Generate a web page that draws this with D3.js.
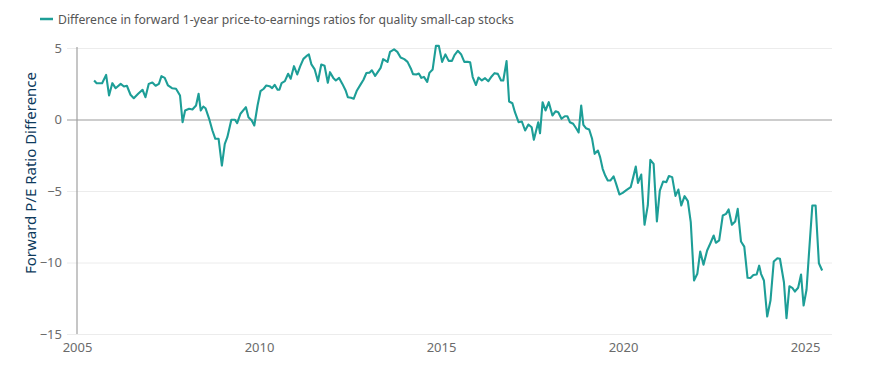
<!DOCTYPE html>
<html>
<head>
<meta charset="utf-8">
<script src="https://cdn.jsdelivr.net/npm/d3@7"></script>
<style>
  body { margin: 0; background: #fff; }
  text { font-family: "Noto Sans", "Open Sans", sans-serif; }
</style>
</head>
<body>
<div id="chart"></div>
<script>
// decimal years and values
var dates = [
  2005.47, 2005.54, 2005.69, 2005.80, 2005.88, 2005.97, 2006.06, 2006.20, 2006.29, 2006.37,
  2006.47, 2006.56, 2006.68, 2006.80, 2006.88, 2006.97, 2007.07, 2007.16, 2007.25, 2007.32,
  2007.41, 2007.50, 2007.61, 2007.72, 2007.83, 2007.90, 2007.97, 2008.08, 2008.17, 2008.27,
  2008.34, 2008.40, 2008.47, 2008.53, 2008.63, 2008.72, 2008.80, 2008.89, 2008.98, 2009.06,
  2009.13, 2009.24, 2009.34, 2009.40, 2009.49, 2009.64, 2009.71, 2009.80, 2009.87, 2009.96,
  2010.04, 2010.13, 2010.20, 2010.29, 2010.36, 2010.43, 2010.51, 2010.56, 2010.62, 2010.71,
  2010.80, 2010.87, 2010.96, 2011.05, 2011.13, 2011.22, 2011.30, 2011.37, 2011.44, 2011.53,
  2011.62, 2011.71, 2011.80, 2011.89, 2011.95, 2012.04, 2012.11, 2012.20, 2012.29, 2012.38,
  2012.44, 2012.53, 2012.60, 2012.69, 2012.80, 2012.87, 2012.95, 2013.04, 2013.10, 2013.19,
  2013.28, 2013.34, 2013.41, 2013.53, 2013.60, 2013.71, 2013.80, 2013.89, 2013.99, 2014.08,
  2014.17, 2014.23, 2014.32, 2014.39, 2014.46, 2014.53, 2014.62, 2014.68, 2014.77, 2014.86,
  2014.94, 2015.03, 2015.12, 2015.21, 2015.30, 2015.37, 2015.46, 2015.55, 2015.64, 2015.73,
  2015.80, 2015.87, 2015.96, 2016.03, 2016.12, 2016.21, 2016.30, 2016.39, 2016.47, 2016.56,
  2016.65, 2016.71, 2016.80, 2016.87, 2016.96, 2017.03, 2017.13, 2017.22, 2017.31, 2017.40,
  2017.49, 2017.55, 2017.67, 2017.72, 2017.79, 2017.87, 2017.96, 2018.06, 2018.15, 2018.22,
  2018.31, 2018.40, 2018.47, 2018.54, 2018.63, 2018.72, 2018.78, 2018.85, 2018.91, 2018.98,
  2019.07, 2019.15, 2019.22, 2019.31, 2019.37, 2019.44, 2019.51, 2019.58, 2019.65, 2019.74,
  2019.81, 2019.90, 2019.99, 2020.09, 2020.21, 2020.28, 2020.35, 2020.41, 2020.50, 2020.59,
  2020.68, 2020.75, 2020.84, 2020.93, 2021.01, 2021.10, 2021.19, 2021.26, 2021.35, 2021.44,
  2021.52, 2021.60, 2021.69, 2021.78, 2021.86, 2021.95, 2022.04, 2022.12, 2022.21, 2022.31,
  2022.40, 2022.49, 2022.55, 2022.64, 2022.74, 2022.83, 2022.90, 2022.99, 2023.08, 2023.15,
  2023.24, 2023.33, 2023.42, 2023.50, 2023.58, 2023.67, 2023.74, 2023.79, 2023.87, 2023.96,
  2024.05, 2024.14, 2024.24, 2024.31, 2024.42, 2024.49, 2024.57, 2024.65, 2024.72, 2024.81,
  2024.89, 2024.96, 2025.04, 2025.11, 2025.20, 2025.29, 2025.38, 2025.47
];
var values = [
  2.73, 2.54, 2.54, 3.12, 1.68, 2.54, 2.19, 2.49, 2.31, 2.36,
  1.73, 1.49, 1.80, 2.08, 1.56, 2.49, 2.59, 2.36, 2.49, 3.03,
  2.91, 2.38, 2.19, 2.15, 1.68, -0.19, 0.63, 0.75, 0.70, 0.98,
  1.80, 0.63, 0.91, 0.79, 0.05, -0.77, -1.35, -1.35, -3.22, -1.70,
  -1.24, -0.02, -0.02, -0.26, 0.40, 0.86, 0.16, -0.07, -0.42, 0.98,
  1.98, 2.15, 2.38, 2.33, 2.19, 2.43, 2.08, 2.08, 2.54, 2.68,
  3.20, 2.85, 3.73, 3.15, 3.71, 4.24, 4.43, 4.55, 3.85, 3.50,
  2.68, 3.85, 3.76, 2.57, 3.31, 2.91, 2.73, 2.91, 2.49, 2.03,
  1.56, 1.52, 1.45, 2.03, 2.49, 2.78, 3.25, 3.28, 3.44, 3.05,
  3.38, 3.61, 4.22, 4.03, 4.73, 4.90, 4.73, 4.34, 4.22, 4.03,
  3.57, 3.17, 3.15, 3.22, 2.91, 2.98, 2.63, 3.26, 3.50, 5.15,
  5.15, 4.03, 4.55, 4.10, 4.10, 4.50, 4.80, 4.57, 4.03, 4.03,
  4.00, 2.97, 2.41, 2.94, 2.73, 2.89, 2.68, 3.01, 3.24, 3.19,
  2.73, 2.73, 4.08, 1.26, 1.14, 0.51, -0.19, -0.14, -0.77, -0.35,
  -0.54, -1.42, -0.19, -0.96, 1.21, 0.63, 1.21, 0.28, 0.58, 0.51,
  0.05, 0.23, 0.23, -0.19, -0.30, -0.65, -0.91, 0.98, -0.37, -0.61,
  -0.70, -1.35, -2.40, -2.17, -2.63, -3.45, -3.92, -4.27, -4.27, -3.97,
  -4.50, -5.24, -5.13, -4.94, -4.73, -4.03, -3.29, -4.43, -3.85, -7.36,
  -6.01, -2.82, -3.10, -7.13, -4.97, -4.34, -4.38, -3.95, -4.03, -5.34,
  -4.90, -6.01, -5.36, -5.71, -7.18, -11.26, -10.79, -9.23, -10.16, -9.16,
  -8.65, -8.11, -8.62, -8.46, -6.71, -6.60, -6.29, -7.36, -7.13, -6.25,
  -8.53, -8.89, -11.07, -11.08, -10.88, -10.84, -10.22, -10.79, -11.26, -13.78,
  -12.66, -9.93, -9.70, -9.74, -11.38, -13.89, -11.66, -11.77, -12.03, -11.77,
  -10.84, -13.01, -11.91, -9.28, -6.01, -6.01, -10.05, -10.56
];
var yTicks = [5, 0, -5, -10, -15];
var xTicks = [2005, 2010, 2015, 2020, 2025];
var seriesName = "Difference in forward 1-year price-to-earnings ratios for quality small-cap stocks";
var yTitle = "Forward P/E Ratio Difference";

var width = 871, height = 372;
var margin = {top: 48, right: 39, bottom: 38, left: 77};
var teal = "#1d9e97";

var data = dates.map(function(d, i){ return {date: d, value: values[i]}; });

var svg = d3.select("#chart").append("svg")
  .attr("width", width)
  .attr("height", height);

var x = d3.scaleLinear()
  .domain([2005, 2025.74])
  .range([margin.left, width - margin.right]);
var y = d3.scaleLinear()
  .domain([-15, 5])
  .range([height - margin.bottom, margin.top]);

// gridlines + y labels
var yAxis = svg.append("g")
  .attr("transform", "translate(" + margin.left + ",0)")
  .call(d3.axisLeft(y)
    .tickValues(yTicks)
    .tickSize(-(width - margin.left - margin.right))
    .tickPadding(15));
yAxis.select(".domain").remove();
yAxis.selectAll(".tick line")
  .attr("x1", -10)
  .attr("stroke", function(d){ return d === 0 ? "#bdbdbd" : "#ececec"; })
  .attr("stroke-width", function(d){ return d === 0 ? 1.5 : 1; });
yAxis.selectAll(".tick text")
  .attr("fill", "#6b6b6b")
  .style("font-size", "13px");

// vertical axis line
svg.append("line")
  .attr("x1", margin.left).attr("x2", margin.left)
  .attr("y1", y(5) - 1).attr("y2", y(-15))
  .attr("stroke", "#a0a0a0")
  .attr("stroke-width", 1.2);

var xAxis = svg.append("g")
  .attr("transform", "translate(0," + (height - margin.bottom) + ")")
  .call(d3.axisBottom(x)
    .tickValues(xTicks)
    .tickFormat(d3.format("d"))
    .tickSize(0)
    .tickPadding(9));
xAxis.select(".domain").remove();
xAxis.selectAll(".tick text")
  .attr("fill", "#6b6b6b")
  .style("font-size", "13px");

// line
var line = d3.line()
  .x(function(d){ return x(d.date); })
  .y(function(d){ return y(d.value); });

svg.append("path")
  .datum(data)
  .attr("fill", "none")
  .attr("stroke", teal)
  .attr("stroke-width", 2.1)
  .attr("stroke-linejoin", "round")
  .attr("d", line);

// y title
svg.append("text")
  .attr("transform", "translate(36," + 173 + ") rotate(-90)")
  .attr("text-anchor", "middle")
  .attr("fill", "#0d3a5c")
  .style("font-size", "15px")
  .text(yTitle);

// legend
svg.append("line")
  .attr("x1", 40).attr("x2", 53)
  .attr("y1", 19).attr("y2", 19)
  .attr("stroke", teal)
  .attr("stroke-width", 2.5);
svg.append("text")
  .attr("x", 58)
  .attr("y", 24)
  .attr("fill", "#555")
  .style("font-size", "12.2px")
  .text(seriesName);
</script>
</body>
</html>
